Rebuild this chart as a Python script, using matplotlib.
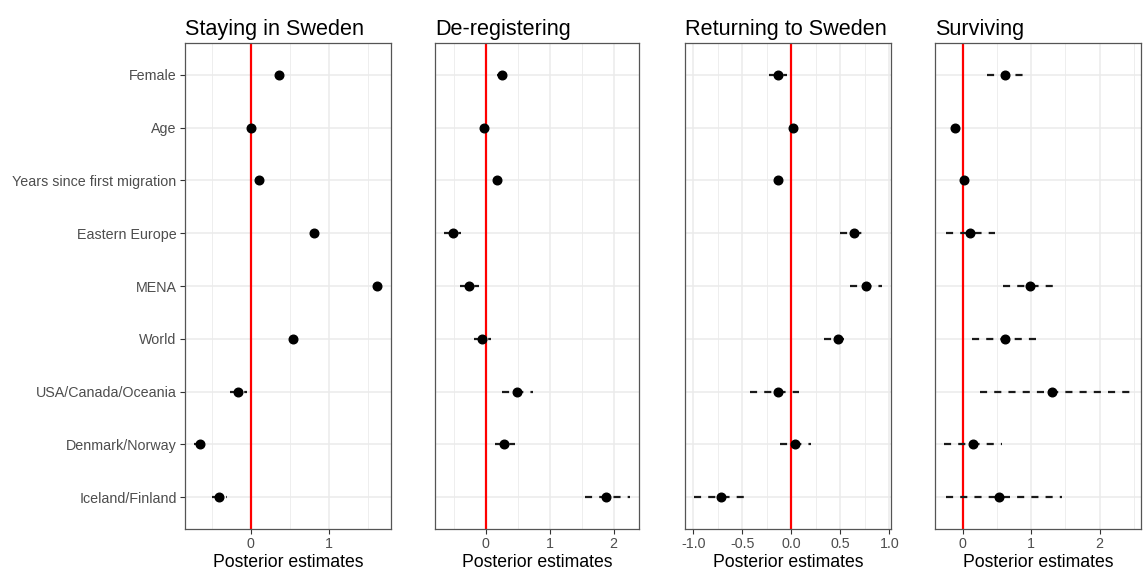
#!/usr/bin/env python
# -*- coding: utf-8 -*-

#!------------------------------------------------------------------------------
#!                                   MODULES
#!------------------------------------------------------------------------------
import numpy
from matplotlib import pyplot as plt
from matplotlib import ticker

plt.rcParams['font.family'] = ['Liberation Sans', 'DejaVu Sans']

#!------------------------------------------------------------------------------
#!                                    DATA
#!------------------------------------------------------------------------------
categories = ["Female", "Age", "Years since first migration", "Eastern Europe",
              "MENA", "World", "USA/Canada/Oceania", "Denmark/Norway",
              "Iceland/Finland"]

titles = ["Staying in Sweden", "De-registering", "Returning to Sweden",
          "Surviving"]

# posterior mean, lower and upper bound of the interval
stay_est = [0.36, 0.00, 0.11, 0.81, 1.62, 0.55, -0.16, -0.65, -0.40]
stay_lo = [0.32, -0.03, 0.08, 0.77, 1.57, 0.51, -0.26, -0.72, -0.49]
stay_hi = [0.40, 0.03, 0.14, 0.85, 1.68, 0.59, -0.05, -0.58, -0.30]

dereg_est = [0.26, -0.03, 0.17, -0.52, -0.26, -0.06, 0.49, 0.28, 1.88]
dereg_lo = [0.17, -0.07, 0.13, -0.65, -0.40, -0.18, 0.26, 0.14, 1.55]
dereg_hi = [0.31, 0.01, 0.21, -0.39, -0.11, 0.08, 0.73, 0.45, 2.25]

return_est = [-0.14, 0.02, -0.14, 0.64, 0.76, 0.47, -0.14, 0.04, -0.72]
return_lo = [-0.23, -0.01, -0.17, 0.50, 0.60, 0.33, -0.42, -0.12, -0.99]
return_hi = [-0.05, 0.05, -0.11, 0.72, 0.92, 0.54, 0.08, 0.20, -0.48]

surv_est = [0.62, -0.11, 0.02, 0.10, 0.98, 0.61, 1.31, 0.15, 0.53]
surv_lo = [0.36, -0.14, -0.01, -0.25, 0.59, 0.13, 0.25, -0.27, -0.24]
surv_hi = [0.88, -0.08, 0.05, 0.47, 1.34, 1.08, 2.47, 0.57, 1.45]

panels = [
    (stay_est, stay_lo, stay_hi, 1.0),
    (dereg_est, dereg_lo, dereg_hi, 1.0),
    (return_est, return_lo, return_hi, 0.5),
    (surv_est, surv_lo, surv_hi, 1.0),
]

#!------------------------------------------------------------------------------
#!                             FUNCTION DEFINITION
#!------------------------------------------------------------------------------
def style_axes(ax, step):
    ax.set_facecolor("white")
    for s in ax.spines.values():
        s.set_color("#555555")
        s.set_linewidth(0.9)
    ax.xaxis.set_major_locator(ticker.MultipleLocator(step))
    ax.xaxis.set_minor_locator(ticker.MultipleLocator(step / 2))
    ax.grid(True, which="major", color="#EBEBEB", linewidth=1.1, zorder=0)
    ax.grid(True, which="minor", axis="x", color="#EBEBEB", linewidth=0.6,
            zorder=0)
    ax.tick_params(which="major", length=3.5, width=0.8, color="#333333",
                   labelcolor="#4D4D4D", labelsize=10.3, pad=2.5)
    ax.tick_params(which="minor", length=0)
    ax.set_axisbelow(True)


def plot_panel(ax, est, lo, hi, step, title, first):
    y = numpy.arange(len(categories))
    est = numpy.array(est)
    lo = numpy.array(lo)
    hi = numpy.array(hi)

    # ggplot style 5% expansion around the data
    xmin, xmax = lo.min(), hi.max()
    pad = 0.05 * (xmax - xmin)
    ax.set_xlim(xmin - pad, xmax + pad)
    ax.set_ylim(len(categories) - 0.4, -0.6)

    style_axes(ax, step)
    ax.axvline(0, color="#FF0000", linewidth=1.6, zorder=2)
    for yi, l, h in zip(y, lo, hi):
        ax.plot([l, h], [yi, yi], color="#1a1a1a", linewidth=1.6,
                linestyle=(0, (3.2, 3.2)), dash_capstyle="butt", zorder=3)
    ax.plot(est, y, "o", color="black", markersize=6.2, zorder=4)

    ax.set_yticks(y)
    if first:
        ax.set_yticklabels(categories)
    else:
        ax.set_yticklabels([])
        ax.tick_params(axis="y", length=0)
    if step < 1:
        ax.xaxis.set_major_formatter(ticker.FormatStrFormatter("%.1f"))
    else:
        ax.xaxis.set_major_formatter(ticker.FormatStrFormatter("%d"))

    ax.set_xlabel("Posterior estimates", fontsize=12.7, color="black",
                  labelpad=2)
    ax.set_title(title, loc="left", fontsize=15.6, color="black", pad=6)


def plot_estimates():
    fig = plt.figure(figsize=(11.44, 5.71), dpi=100)
    lefts = [185, 435, 685, 935]
    widths = [206, 204, 206, 206]
    bottom = 1 - 529 / 571
    height = (529 - 43) / 571
    for i, (est, lo, hi, step) in enumerate(panels):
        ax = fig.add_axes([lefts[i] / 1144, bottom, widths[i] / 1144, height])
        plot_panel(ax, est, lo, hi, step, titles[i], i == 0)
    fig.savefig("out.png", dpi=100, facecolor="white")


#!------------------------------------------------------------------------------
#!                                MAIN FUNCTION
#!------------------------------------------------------------------------------
def main():
    plot_estimates()


if __name__ == '__main__':
    main()
